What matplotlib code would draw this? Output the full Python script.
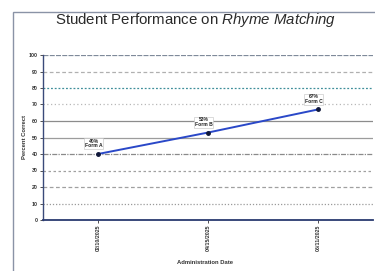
import matplotlib.pyplot as plt
from matplotlib.patches import Rectangle

# data
dates = ['02/10/2025', '04/15/2025', '06/11/2025']
forms = ['Form A', 'Form B', 'Form C']
pct = [40, 53, 67]
yticks = [0, 10, 20, 30, 40, 50, 60, 70, 80, 90, 100]

plt.rcParams['font.family'] = ['Liberation Sans', 'DejaVu Sans']
plt.rcParams['mathtext.fontset'] = 'custom'
plt.rcParams['mathtext.rm'] = 'Liberation Sans'
plt.rcParams['mathtext.it'] = 'Liberation Sans:italic'

fig = plt.figure(figsize=(3.75, 2.71), dpi=100)
fig.patch.set_facecolor('white')

# outer chart frame
fig.patches.append(Rectangle((13 / 375, -0.02), 1.0, 1 - 12 / 271 + 0.02,
                             transform=fig.transFigure, fill=False,
                             edgecolor='#8a93a6', lw=1.0))

ax = fig.add_axes([43 / 375, 1 - 220 / 271, 330 / 375, 165 / 271])

fig.text(196 / 375, 1 - 20 / 271, 'Student Performance on $\\it{Rhyme\\ Matching}$',
         ha='center', va='center', fontsize=10.8, color='#2a2a2a')

# gridlines, mixed styles like the scanned original
grid_styles = {
    10: ((0, (1, 1.5)), '#9a9a9a'),
    20: ((0, (3, 2)), '#a0a0a0'),
    30: ((0, (2, 2)), '#a0a0a0'),
    40: ((0, (4, 1, 1, 1)), '#8a8a8a'),
    50: ('-', '#9c9c9c'),
    60: ('-', '#8c8c8c'),
    70: ((0, (1, 2)), '#b8b8b8'),
    80: ((0, (1.5, 1.5)), '#3f8f9a'),
    90: ((0, (3, 2)), '#b0b0b0'),
    100: ((0, (4, 1)), '#7f8a9a'),
}
for yv, (ls, c) in grid_styles.items():
    ax.axhline(yv, color=c, ls=ls, lw=0.9, zorder=1)

x = list(range(len(dates)))
ax.plot(x, pct, color='#2a48c8', lw=1.4, zorder=3)
ax.plot(x, pct, 'o', color='#10183a', ms=2.5, zorder=4)

for xi, p, f in zip(x, pct, forms):
    ax.annotate(f'{p}%\n{f}', (xi, p), xytext=(-3, 4), textcoords='offset points',
                ha='center', va='bottom', fontsize=3.6, fontweight='bold',
                color='#222222', linespacing=0.9,
                bbox=dict(boxstyle='square,pad=0.15', fc='white', ec='#c0c0c0', lw=0.4),
                zorder=5)

ax.set_xlim(-0.5, 2.5)
ax.set_ylim(0, 100)
ax.set_yticks(yticks)
ax.set_yticklabels([str(v) for v in yticks], fontsize=3.8, fontweight='bold')
ax.set_xticks(x)
ax.set_xticklabels(dates, rotation=90, fontsize=3.8, fontweight='bold')
ax.tick_params(axis='both', length=2, width=0.6, pad=1.5, colors='#333333')

for s in ['top', 'right']:
    ax.spines[s].set_visible(False)
ax.spines['left'].set_color('#3a4a7a')
ax.spines['bottom'].set_color('#2a3a70')
ax.spines['left'].set_linewidth(1.0)
ax.spines['bottom'].set_linewidth(1.3)

fig.text(25 / 375, 1 - 137 / 271, 'Percent Correct', rotation=90,
         ha='center', va='center', fontsize=4.2, fontweight='bold', color='#333333')
fig.text(205 / 375, 1 - 262 / 271, 'Administration Date',
         ha='center', va='center', fontsize=4.2, fontweight='bold', color='#333333')

fig.savefig('out.png', dpi=100)
